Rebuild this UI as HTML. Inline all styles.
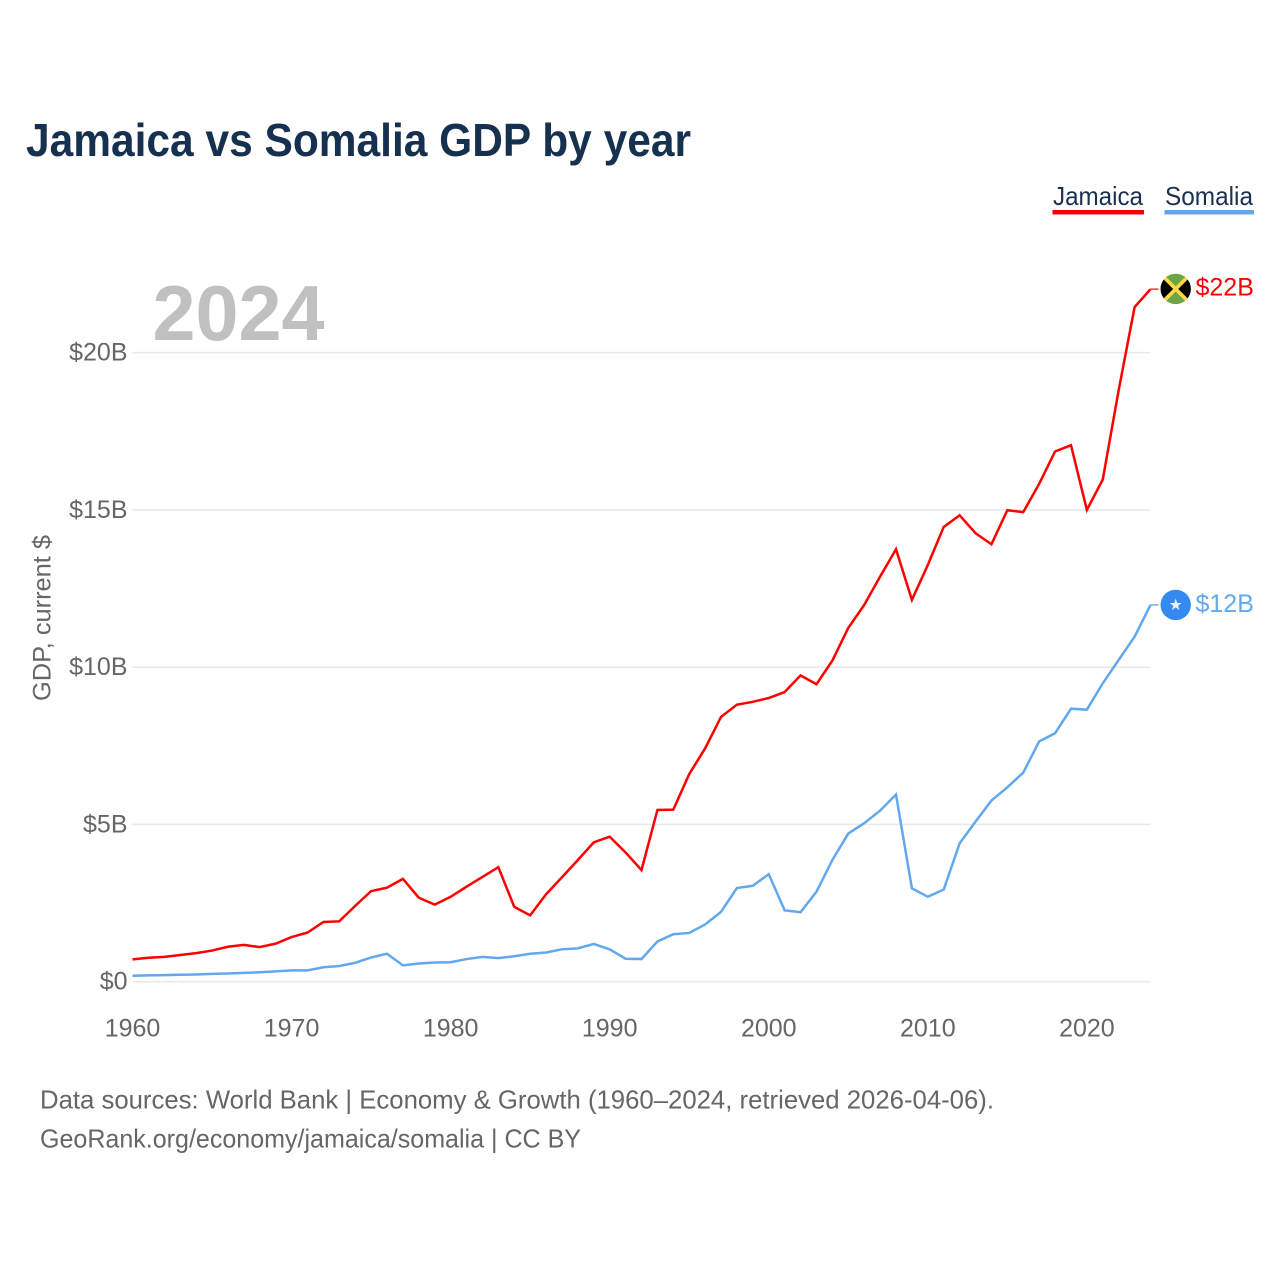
<!DOCTYPE html>
<html lang="en">
<head>
<meta charset="utf-8">
<title>Jamaica vs Somalia GDP by year</title>
<style>
  html, body { margin: 0; padding: 0; background: #fff; }
  svg { display: block; font-family: "Liberation Sans", sans-serif; }
</style>
</head>
<body>
<svg id="chart" xmlns="http://www.w3.org/2000/svg" width="1280" height="1280" viewBox="0 0 1280 1280">
  <rect x="0" y="0" width="1280" height="1280" fill="#ffffff"/>
  <text x="26" y="156" font-size="46.5" font-weight="700" fill="#16304f" textLength="665" lengthAdjust="spacingAndGlyphs">Jamaica vs Somalia GDP by year</text>

  <g>
    <text x="1053" y="205" font-size="26" fill="#1a3050" textLength="90" lengthAdjust="spacingAndGlyphs">Jamaica</text>
    <rect x="1052.5" y="210" width="91.5" height="4.5" fill="#ff0000"/>
  </g>
  <g>
    <text x="1165" y="205" font-size="26" fill="#1a3050" textLength="88" lengthAdjust="spacingAndGlyphs">Somalia</text>
    <rect x="1164.5" y="210" width="89.5" height="4.5" fill="#62a8ee"/>
  </g>

  <text x="152.5" y="340" font-size="78" font-weight="700" fill="#c0c0c0" textLength="172" lengthAdjust="spacingAndGlyphs">2024</text>
  <text transform="translate(50.5,701) rotate(-90)" x="0" y="0" font-size="25" fill="#666666" textLength="166" lengthAdjust="spacingAndGlyphs">GDP, current $</text>

  <g id="grid"></g>
  <g id="y-ticks"></g>
  <g id="x-ticks"></g>
  <g id="series"></g>
  <g id="end-labels"></g>

  <text x="40" y="1108.5" font-size="26" fill="#666666" textLength="954" lengthAdjust="spacingAndGlyphs">Data sources: World Bank | Economy &amp; Growth (1960–2024, retrieved 2026-04-06).</text>
  <text x="40" y="1147.5" font-size="26" fill="#666666" textLength="541" lengthAdjust="spacingAndGlyphs">GeoRank.org/economy/jamaica/somalia | CC BY</text>
</svg>
<script>
const firstYear = 1960;
const yTickValues = [0, 5, 10, 15, 20];
const xTickYears = [1960, 1970, 1980, 1990, 2000, 2010, 2020];
const jamaicaGdp = [0.71,0.76,0.79,0.85,0.91,0.99,1.11,1.17,1.10,1.21,1.42,1.56,1.90,1.92,2.41,2.88,2.99,3.27,2.67,2.45,2.70,3.02,3.33,3.64,2.38,2.11,2.78,3.32,3.87,4.43,4.61,4.11,3.55,5.46,5.47,6.60,7.42,8.42,8.81,8.90,9.02,9.21,9.74,9.46,10.21,11.25,11.98,12.88,13.75,12.14,13.25,14.46,14.83,14.26,13.91,14.99,14.93,15.83,16.86,17.06,15.00,15.97,18.81,21.45,22.02];
const somaliaGdp = [0.19,0.20,0.21,0.22,0.23,0.25,0.26,0.28,0.30,0.33,0.36,0.36,0.46,0.50,0.60,0.77,0.89,0.52,0.58,0.61,0.62,0.72,0.79,0.75,0.81,0.89,0.93,1.03,1.06,1.20,1.03,0.73,0.72,1.28,1.51,1.55,1.82,2.22,2.98,3.05,3.42,2.27,2.21,2.86,3.87,4.71,5.04,5.44,5.95,2.97,2.70,2.93,4.40,5.09,5.76,6.18,6.65,7.64,7.90,8.68,8.65,9.49,10.23,10.97,11.98];

const NS = 'http://www.w3.org/2000/svg';
const plotLeft = 132.5, plotRight = 1150.5, plotZeroY = 981.7, pxPerBillion = 31.45;
const yearCount = jamaicaGdp.length;
function xScale(year) { return plotLeft + (year - firstYear) * (plotRight - plotLeft) / (yearCount - 1); }
function yScale(v) { return plotZeroY - v * pxPerBillion; }
function make(tag, parent, attrs, text) {
  const el = document.createElementNS(NS, tag);
  for (const k in attrs) el.setAttribute(k, attrs[k]);
  if (text !== undefined) el.textContent = text;
  parent.appendChild(el);
  return el;
}
function money(v) { return '$' + Math.round(v) + (v === 0 ? '' : 'B'); }

const gridG = document.getElementById('grid');
const yTicksG = document.getElementById('y-ticks');
yTickValues.forEach(function (v) {
  const line = make('line', gridG, { x1: plotLeft, x2: plotRight, y1: yScale(v), y2: yScale(v), stroke: '#e9e9e9', 'stroke-width': 1.6 });
  
  
  const label = make('text', yTicksG, { x: 127.5, y: yScale(v) + 8, 'text-anchor': 'end', 'font-size': 25, fill: '#666666' }, money(v));
  
  
});

const xTicksG = document.getElementById('x-ticks');
xTickYears.forEach(function (yr) {
  const label = make('text', xTicksG, { x: xScale(yr), y: 1036.7, 'text-anchor': 'middle', 'font-size': 25, fill: '#666666' }, String(yr));
  
  
});

function linePath(values) {
  return values.map(function (v, i) {
    return (i ? 'L' : 'M') + xScale(firstYear + i).toFixed(2) + ' ' + yScale(v).toFixed(2);
  }).join(' ');
}
const seriesG = document.getElementById('series');
const stubLength = 8;
const jamaicaLine = make('path', seriesG, { d: linePath(jamaicaGdp), fill: 'none', stroke: '#ff0000', 'stroke-width': 2.5, 'stroke-linejoin': 'miter' });


const somaliaLine = make('path', seriesG, { d: linePath(somaliaGdp), fill: 'none', stroke: '#62a8ee', 'stroke-width': 2.5, 'stroke-linejoin': 'miter' });



const endG = document.getElementById('end-labels');
const jamaicaLast = jamaicaGdp[jamaicaGdp.length - 1];
const somaliaLast = somaliaGdp[somaliaGdp.length - 1];
const flagX = 1175.7;

const jamaicaStub = make('line', endG, { x1: plotRight, x2: plotRight + stubLength, y1: yScale(jamaicaLast), y2: yScale(jamaicaLast), stroke: '#ff0000', 'stroke-width': 1.6, opacity: 0.75 });


const somaliaStub = make('line', endG, { x1: plotRight, x2: plotRight + stubLength, y1: yScale(somaliaLast), y2: yScale(somaliaLast), stroke: '#62a8ee', 'stroke-width': 1.6, opacity: 0.85 });



const jy = yScale(jamaicaLast) - 0.2;
const jamaicaFlag = make('g', endG, { transform: 'translate(' + flagX + ',' + jy + ')' });


make('circle', jamaicaFlag, { cx: 0, cy: 0, r: 15.2, fill: '#6da544' });
make('path', jamaicaFlag, { d: 'M-10.7 -10.7 L0 0 L-10.7 10.7 A15.2 15.2 0 0 1 -10.7 -10.7 Z', fill: '#000000' });
make('path', jamaicaFlag, { d: 'M10.7 -10.7 L0 0 L10.7 10.7 A15.2 15.2 0 0 0 10.7 -10.7 Z', fill: '#000000' });
make('path', jamaicaFlag, { d: 'M-10.7 -10.7 L10.7 10.7 M10.7 -10.7 L-10.7 10.7', stroke: '#ffda44', 'stroke-width': 3.6, fill: 'none' });

const sy = yScale(somaliaLast);
const somaliaFlag = make('g', endG, { transform: 'translate(' + flagX + ',' + sy + ')' });


make('circle', somaliaFlag, { cx: 0, cy: 0, r: 15.2, fill: '#338af3' });
make('path', somaliaFlag, { d: 'M0 -6.3 L1.5 -1.9 L6.1 -1.9 L2.4 0.8 L3.8 5.2 L0 2.5 L-3.8 5.2 L-2.4 0.8 L-6.1 -1.9 L-1.5 -1.9 Z', fill: '#f0f0f0' });

const jamaicaValue = make('text', endG, { x: 1195.5, y: yScale(jamaicaLast) + 6.5, 'font-size': 25, fill: '#ff0000' }, money(jamaicaLast));


const somaliaValue = make('text', endG, { x: 1195.5, y: yScale(somaliaLast) + 7, 'font-size': 25, fill: '#62a8ee' }, money(somaliaLast));


</script>
</body>
</html>
